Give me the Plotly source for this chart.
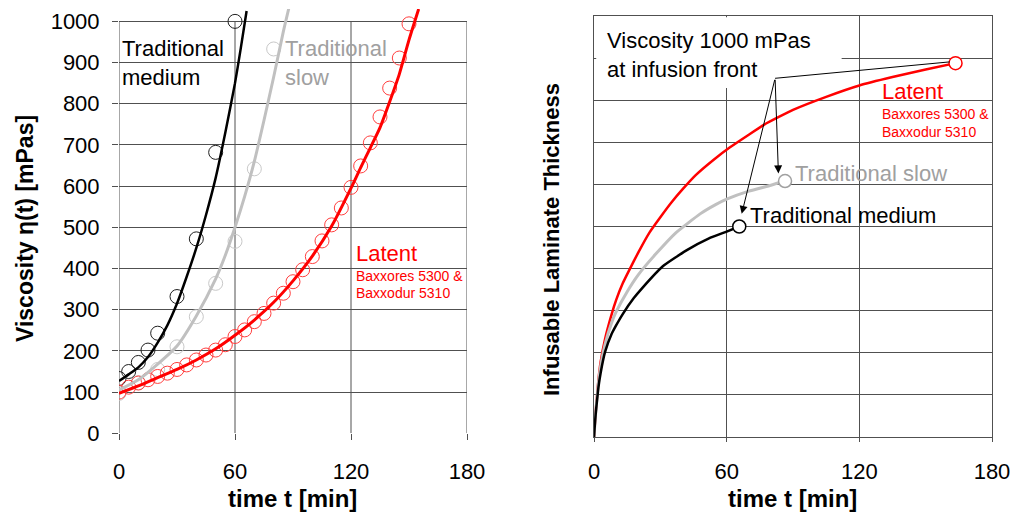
import plotly.graph_objects as go

W, H = 1015, 515
FONT = "Liberation Sans, Arial, sans-serif"

# ---------------- Left chart data: viscosity vs time ----------------
med_t_pts = [0, 5, 10, 15, 20, 30, 40, 50, 60]
med_v_pts = [133, 150, 172, 202, 243, 332, 472, 682, 1000]
slow_t_pts = [0, 10, 20, 30, 40, 50, 60, 70, 80]
slow_v_pts = [97, 123, 155, 210, 283, 364, 466, 642, 933]
lat_t_pts = [0, 5, 10, 15, 20, 25, 30, 35, 40, 45, 50, 55, 60, 65, 70, 75,
             80, 85, 90, 95, 100, 105, 110, 115, 120, 125, 130, 135, 140, 145, 150]
lat_v_pts = [100, 112, 122, 130, 138, 146, 155, 166, 178, 190, 202, 215, 235, 251, 271, 291,
             316, 340, 368, 397, 429, 467, 506, 547, 597, 649, 705, 768, 838, 911, 994]

med_t_fit = [0, 5, 10, 15, 20, 25, 30, 35, 40, 45, 50, 55, 60, 63, 66]
med_v_fit = [127, 143, 160, 185, 220, 262, 315, 380, 450, 530, 620, 730, 850, 935, 1025]
slow_t_fit = [0, 10, 20, 30, 40, 50, 55, 60, 65, 70, 75, 80, 85, 88]
slow_v_fit = [105, 130, 168, 212, 285, 375, 432, 500, 575, 660, 760, 865, 975, 1035]
lat_t_fit = [0, 10, 20, 30, 40, 50, 60, 70, 80, 90, 100, 110, 120, 125, 130, 135, 140, 145, 150, 155]
lat_v_fit = [97, 115, 135, 155, 178, 205, 238, 275, 318, 370, 430, 503, 595, 645, 693, 742, 805, 872, 955, 1030]

x_ticks = [0, 60, 120, 180]
y_ticks_left = [0, 100, 200, 300, 400, 500, 600, 700, 800, 900, 1000]

# ---------------- Right chart data: infusable thickness vs time ----------------
lat_t_inf = [0, 0.5, 1, 2, 3, 5, 8, 10, 13, 16, 20, 25, 30, 35, 40, 46, 54, 61.5, 70, 77,
             90, 105, 120, 135, 150, 163.5]
lat_h_inf = [0, 0.4, 0.75, 1.35, 1.78, 2.33, 2.92, 3.25, 3.65, 3.97, 4.38, 4.85, 5.22, 5.57, 5.88,
             6.22, 6.58, 6.88, 7.18, 7.42, 7.77, 8.08, 8.35, 8.55, 8.73, 8.88]
slow_t_inf = [0, 0.5, 1, 2, 3, 5, 8, 10, 15, 20, 28, 37, 48, 55, 60, 70, 80, 86.4]
slow_h_inf = [0, 0.4, 0.72, 1.28, 1.68, 2.2, 2.72, 2.97, 3.45, 3.85, 4.35, 4.85, 5.3, 5.52,
              5.65, 5.84, 5.98, 6.08]
med_t_inf = [0, 0.5, 1, 2, 3, 5, 8, 10, 13, 18, 22, 31, 42, 52, 60, 65.7]
med_h_inf = [0, 0.38, 0.68, 1.18, 1.52, 2.02, 2.45, 2.65, 2.92, 3.3, 3.55, 4.05, 4.44, 4.72,
             4.88, 5.0]
y_ticks_right = [0, 1, 2, 3, 4, 5, 6, 7, 8, 9, 10]

BLACK = "#000000"
GREY = "#c0c0c0"
GREY_TXT = "#a0a0a0"
RED = "#ff0000"
GRID = "#505050"


def px(x):
    return x / W


def py(y):
    return 1 - y / H


fig = go.Figure()

# Left: measured points (open circles)
fig.add_trace(go.Scatter(x=med_t_pts, y=med_v_pts, mode="markers", xaxis="x", yaxis="y",
                         marker=dict(symbol="circle-open", size=14, color="#202020", line=dict(width=1))))
fig.add_trace(go.Scatter(x=slow_t_pts, y=slow_v_pts, mode="markers", xaxis="x", yaxis="y",
                         marker=dict(symbol="circle-open", size=14, color="#c8c8c8", line=dict(width=1))))
fig.add_trace(go.Scatter(x=lat_t_pts, y=lat_v_pts, mode="markers", xaxis="x", yaxis="y",
                         marker=dict(symbol="circle-open", size=14, color="#ff4040", line=dict(width=1))))
# Left: model curves
fig.add_trace(go.Scatter(x=med_t_fit, y=med_v_fit, mode="lines", xaxis="x", yaxis="y",
                         line=dict(color=BLACK, width=2.5, shape="spline", smoothing=0.6)))
fig.add_trace(go.Scatter(x=slow_t_fit, y=slow_v_fit, mode="lines", xaxis="x", yaxis="y",
                         line=dict(color=GREY, width=3, shape="spline", smoothing=0.6)))
fig.add_trace(go.Scatter(x=lat_t_fit, y=lat_v_fit, mode="lines", xaxis="x", yaxis="y",
                         line=dict(color=RED, width=3, shape="spline", smoothing=0.6)))

# Right: curves
fig.add_trace(go.Scatter(x=lat_t_inf, y=lat_h_inf, mode="lines", xaxis="x2", yaxis="y2",
                         line=dict(color=RED, width=2.5, shape="spline", smoothing=0.4)))
fig.add_trace(go.Scatter(x=slow_t_inf, y=slow_h_inf, mode="lines", xaxis="x2", yaxis="y2",
                         line=dict(color=GREY, width=3, shape="spline", smoothing=0.4)))
fig.add_trace(go.Scatter(x=med_t_inf, y=med_h_inf, mode="lines", xaxis="x2", yaxis="y2",
                         line=dict(color=BLACK, width=2.5, shape="spline", smoothing=0.4)))
# Right: end points (1000 mPas at front)
for tt, hh, col in [(lat_t_inf, lat_h_inf, RED), (slow_t_inf, slow_h_inf, GREY_TXT), (med_t_inf, med_h_inf, BLACK)]:
    fig.add_trace(go.Scatter(x=[tt[-1]], y=[hh[-1]], mode="markers", xaxis="x2", yaxis="y2",
                             marker=dict(symbol="circle", size=13, color="white", line=dict(color=col, width=1.5))))

shapes = []
# left vertical grid lines + frame, limited to 0..1000
for xv in x_ticks:
    shapes.append(dict(type="line", xref="x", yref="y", x0=xv, x1=xv, y0=0, y1=y_ticks_left[-1],
                       line=dict(color=GRID, width=1), layer="between"))
# right: white box behind the note
shapes.append(dict(type="rect", xref="x2", yref="y2", x0=1.0, x1=112, y0=8.29, y1=9.97,
                   fillcolor="white", line=dict(width=0), layer="between"))
# right: line from note to latent end point
j_x, j_y = 81.9, 8.52
shapes.append(dict(type="line", xref="x2", yref="y2", x0=j_x, y0=j_y, x1=lat_t_inf[-1] - 2.6,
                   y1=lat_h_inf[-1] + 0.03, line=dict(color=BLACK, width=1), layer="above"))

annotations = []


def txt(text, x, y, size, color, anchor="left", bold=False, angle=0):
    if bold:
        text = "<b>" + text + "</b>"
    annotations.append(dict(text=text, x=px(x), y=py(y), xref="paper", yref="paper",
                            xanchor=anchor, yanchor="middle", showarrow=False, textangle=angle,
                            align="left", font=dict(family=FONT, size=size, color=color)))


# left chart texts
txt("Traditional<br>medium", 120, 63, 22, BLACK)
txt("Traditional<br>slow", 283, 63, 22, GREY_TXT)
txt("Latent", 354, 253, 22, RED)
txt("Baxxores 5300 &", 354, 276, 14, RED)
txt("Baxxodur 5310", 354, 293, 14, RED)
txt("Viscosity η(t) [mPas]", 25, 229, 23, BLACK, anchor="center", bold=True, angle=-90)
txt("time t [min]", 292, 498, 24, BLACK, anchor="center", bold=True)

# right chart texts
txt("Viscosity 1000 mPas<br>at infusion front", 605, 55, 22, BLACK)
txt("Latent", 880, 91, 22, RED)
txt("Baxxores 5300 &", 880, 114, 14, RED)
txt("Baxxodur 5310", 880, 132, 14, RED)
txt("Traditional slow", 793, 173, 22, GREY_TXT)
txt("Traditional medium", 748, 215, 22, BLACK)
txt("Infusable Laminate Thickness", 551, 240, 22, BLACK, anchor="center", bold=True, angle=-90)
txt("time t [min]", 792, 498, 24, BLACK, anchor="center", bold=True)

# arrows to the traditional end points
for tx, ty in [(slow_t_inf[-1] - 3.0, slow_h_inf[-1] + 0.18), (med_t_inf[-1] + 1.1, med_h_inf[-1] + 0.3)]:
    annotations.append(dict(x=tx, y=ty, xref="x2", yref="y2", ax=j_x, ay=j_y, axref="x2", ayref="y2",
                            showarrow=True, arrowhead=2, arrowsize=1.6, arrowwidth=1, arrowcolor=BLACK,
                            text="", standoff=0))

fig.update_layout(
    width=W, height=H,
    margin=dict(l=0, r=0, t=0, b=0, autoexpand=False),
    paper_bgcolor="white", plot_bgcolor="white",
    showlegend=False,
    font=dict(family=FONT, size=22, color=BLACK),
    shapes=shapes,
    annotations=annotations,
    xaxis=dict(domain=[px(119), px(467)], range=[0, 180], tickvals=x_ticks, showgrid=False,
               zeroline=False, showline=False, ticks="outside", ticklen=6, tickcolor=GRID,
               tickfont=dict(size=22), ticklabelstandoff=12, anchor="y", fixedrange=True,
               automargin=False),
    yaxis=dict(domain=[py(433.3), py(9)], range=[0, 1030], tickvals=y_ticks_left, showgrid=True,
               gridcolor=GRID, gridwidth=1, zeroline=False, showline=False, ticks="outside",
               ticklen=6, tickcolor=GRID, tickfont=dict(size=22), ticklabelstandoff=8,
               anchor="x", fixedrange=True, automargin=False),
    xaxis2=dict(domain=[px(594), px(992)], range=[0, 180], tickvals=x_ticks, showgrid=True,
                gridcolor=GRID, gridwidth=1, zeroline=False, showline=True, mirror=True,
                linecolor=GRID, linewidth=1, ticks="outside", ticklen=4, tickcolor=GRID,
                tickfont=dict(size=22), ticklabelstandoff=11, anchor="y2", fixedrange=True,
                automargin=False),
    yaxis2=dict(domain=[py(437), py(16)], range=[0, 10], tickvals=y_ticks_right, showgrid=True,
                gridcolor=GRID, gridwidth=1, zeroline=False, showline=True, mirror=True,
                linecolor=GRID, linewidth=1, showticklabels=False, ticks="",
                anchor="x2", fixedrange=True, automargin=False),
)

fig.write_html("out.html", config={"displayModeBar": False},
               post_script="document.body.style.margin='0px';document.body.style.overflow='hidden';")
